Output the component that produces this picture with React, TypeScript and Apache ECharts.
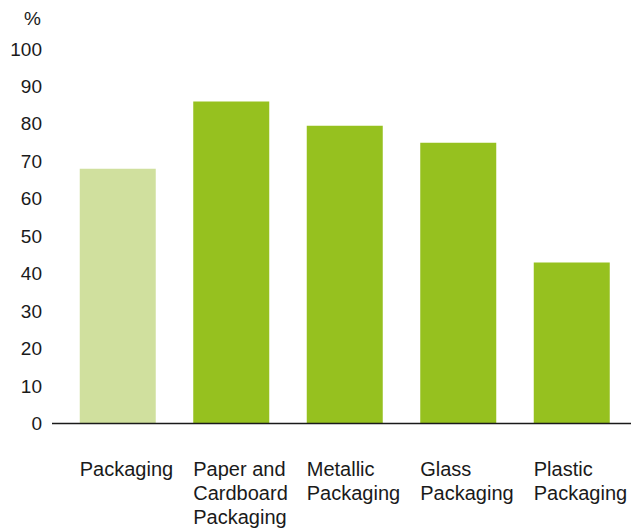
import React, { useEffect, useRef } from "react";
import * as echarts from "echarts";

// Recycling rates by packaging material, in percent
const categories = [
  "Packaging",
  "Paper and\nCardboard\nPackaging",
  "Metallic\nPackaging",
  "Glass\nPackaging",
  "Plastic\nPackaging",
];
const rates = [68, 86, 79.5, 75, 43];
const barColors = ["#d0e09e", "#96c11f", "#96c11f", "#96c11f", "#96c11f"];

const FONT = "'Liberation Sans', Arial, Helvetica, sans-serif";

export default function App() {
  const ref = useRef<HTMLDivElement>(null);

  useEffect(() => {
    if (!ref.current) return;
    const chart = echarts.init(ref.current, null, { renderer: "svg" });
    chart.setOption({
      animation: false,
      backgroundColor: "#ffffff",
      grid: {
        left: 61,
        right: 2.5,
        top: 49,
        bottom: 104.5,
        containLabel: false,
        outerBoundsMode: "none",
      },
      xAxis: {
        type: "category",
        data: categories,
        axisLine: { show: false },
        axisTick: { show: false },
        axisLabel: {
          interval: 0,
          align: "left",
          margin: 33,
          padding: [0, 0, 0, -38],
          color: "#1a1a1a",
          fontFamily: FONT,
          fontSize: 20,
          lineHeight: 24,
        },
      },
      yAxis: {
        type: "value",
        min: 0,
        max: 100,
        interval: 10,
        axisLine: { show: false },
        axisTick: { show: false },
        splitLine: { show: false },
        axisLabel: {
          margin: 19,
          color: "#1a1a1a",
          fontFamily: FONT,
          fontSize: 19,
        },
      },
      graphic: [
        {
          type: "text",
          x: 41,
          y: 18,
          style: {
            text: "%",
            fill: "#1a1a1a",
            font: `19px ${FONT}`,
            textAlign: "right",
            textVerticalAlign: "middle",
          },
        },
        {
          type: "line",
          shape: { x1: 52, y1: 423.5, x2: 631, y2: 423.5 },
          style: { stroke: "#1a1a1a", lineWidth: 1.3 },
          z: 10,
        },
      ],
      series: [
        {
          type: "bar",
          barWidth: 76,
          data: rates.map((v, i) => ({ value: v, itemStyle: { color: barColors[i] } })),
        },
      ],
    });
    return () => chart.dispose();
  }, []);

  return <div ref={ref} style={{ width: 631, height: 528, position: "absolute", left: 0, top: 0 }} />;
}
